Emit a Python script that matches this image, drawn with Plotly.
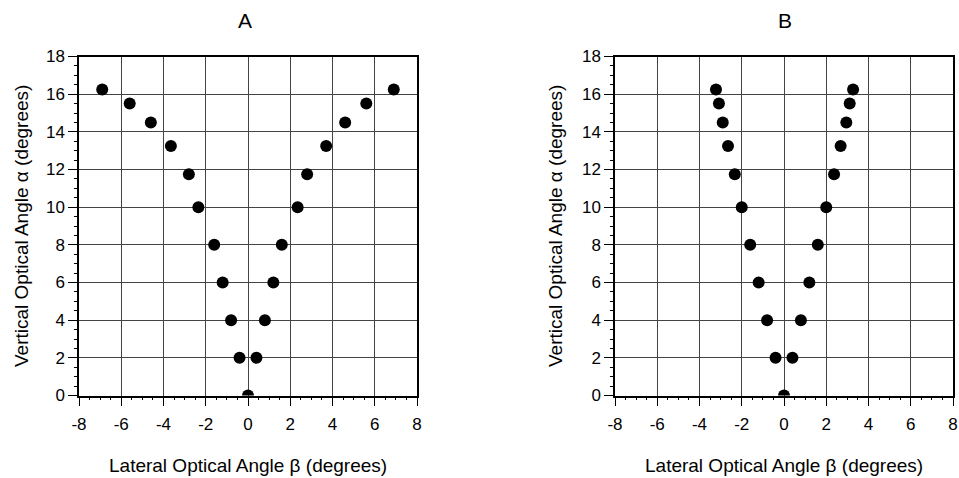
import plotly.graph_objects as go

# Panel A data (lateral angle beta, vertical angle alpha)
a_beta = [0.0, -0.4, 0.4, -0.8, 0.8, -1.2, 1.2, -1.6, 1.6, -2.35, 2.35,
          -2.8, 2.8, -3.65, 3.7, -4.6, 4.6, -5.6, 5.6, -6.9, 6.9]
a_alpha = [0, 2, 2, 4, 4, 6, 6, 8, 8, 10, 10,
           11.75, 11.75, 13.25, 13.25, 14.5, 14.5, 15.5, 15.5, 16.25, 16.25]

# Panel B data
b_beta = [0.0, -0.4, 0.4, -0.8, 0.8, -1.2, 1.2, -1.6, 1.6, -2.0, 2.0,
          -2.33, 2.37, -2.65, 2.68, -2.9, 2.95, -3.08, 3.11, -3.22, 3.27]
b_alpha = [0, 2, 2, 4, 4, 6, 6, 8, 8, 10, 10,
           11.75, 11.75, 13.25, 13.25, 14.5, 14.5, 15.5, 15.5, 16.25, 16.25]

x_ticks = [-8, -6, -4, -2, 0, 2, 4, 6, 8]
x_tick_labels = ["-8", "-6", "-4", "-2", "0", "2", "4", "6", "8"]
y_ticks = [0, 2, 4, 6, 8, 10, 12, 14, 16, 18]
y_tick_labels = ["0", "2", "4", "6", "8", "10", "12", "14", "16", "18"]

panel_titles = ["A", "B"]
x_title = "Lateral Optical Angle β (degrees)"
y_title = "Vertical Optical Angle α (degrees)"

FONT = "Liberation Sans, Arial, sans-serif"
W, H = 959, 478

fig = go.Figure()
marker = dict(color="black", size=12, line=dict(width=0))
fig.add_trace(go.Scatter(x=a_beta, y=a_alpha, mode="markers", marker=marker,
                         xaxis="x", yaxis="y", showlegend=False))
fig.add_trace(go.Scatter(x=b_beta, y=b_alpha, mode="markers", marker=marker,
                         xaxis="x2", yaxis="y2", showlegend=False))

def xax(domain, anchor):
    return dict(domain=domain, anchor=anchor, range=[-8, 8],
                tickvals=x_ticks, ticktext=x_tick_labels,
                ticks="outside", ticklen=9, tickcolor="black", tickwidth=1,
                minor=dict(dtick=0.5, ticks="outside", ticklen=3, tickcolor="black", showgrid=False),
                showline=True, linecolor="black", linewidth=1.5, mirror=True,
                showgrid=True, gridcolor="#444", gridwidth=1, zeroline=False,
                tickfont=dict(family=FONT, size=17, color="black"),
                ticklabelstandoff=3, fixedrange=True)

def yax(domain, anchor):
    return dict(domain=domain, anchor=anchor, range=[0, 18],
                tickvals=y_ticks, ticktext=y_tick_labels,
                ticks="outside", ticklen=9, tickcolor="black", tickwidth=1,
                minor=dict(dtick=0.5, ticks="outside", ticklen=3, tickcolor="black", showgrid=False),
                showline=True, linecolor="black", linewidth=1.5, mirror=True,
                showgrid=True, gridcolor="#444", gridwidth=1, zeroline=False,
                tickfont=dict(family=FONT, size=17, color="black"), fixedrange=True)

ydom = [1 - 395.5 / H, 1 - 56.5 / H]
xdomA = [79 / W, 417 / W]
xdomB = [615 / W, 953 / W]

annotations = []
for i, (xd, cx_title, cx_y) in enumerate([(xdomA, 245, 22), (xdomB, 785, 556)]):
    annotations.append(dict(text=panel_titles[i], x=cx_title / W, y=1 - 21 / H,
                            xref="paper", yref="paper", showarrow=False,
                            font=dict(family=FONT, size=21, color="black"),
                            xanchor="center", yanchor="middle"))
    annotations.append(dict(text=x_title, x=(xd[0] + xd[1]) / 2, y=1 - 465 / H,
                            xref="paper", yref="paper", showarrow=False,
                            font=dict(family=FONT, size=19, color="black"),
                            xanchor="center", yanchor="middle"))
    annotations.append(dict(text=y_title, x=cx_y / W, y=(ydom[0] + ydom[1]) / 2,
                            xref="paper", yref="paper", showarrow=False, textangle=-90,
                            font=dict(family=FONT, size=19, color="black"),
                            xanchor="center", yanchor="middle"))

fig.update_layout(
    width=W, height=H,
    margin=dict(l=0, r=0, t=0, b=0, autoexpand=False),
    paper_bgcolor="white", plot_bgcolor="white",
    xaxis=xax(xdomA, "y"), yaxis=yax(ydom, "x"),
    xaxis2=xax(xdomB, "y2"), yaxis2=yax(ydom, "x2"),
    annotations=annotations,
)

fig.write_html("out.html", config={"displayModeBar": False},
               post_script="document.body.style.margin='0';document.body.style.overflow='hidden';")
